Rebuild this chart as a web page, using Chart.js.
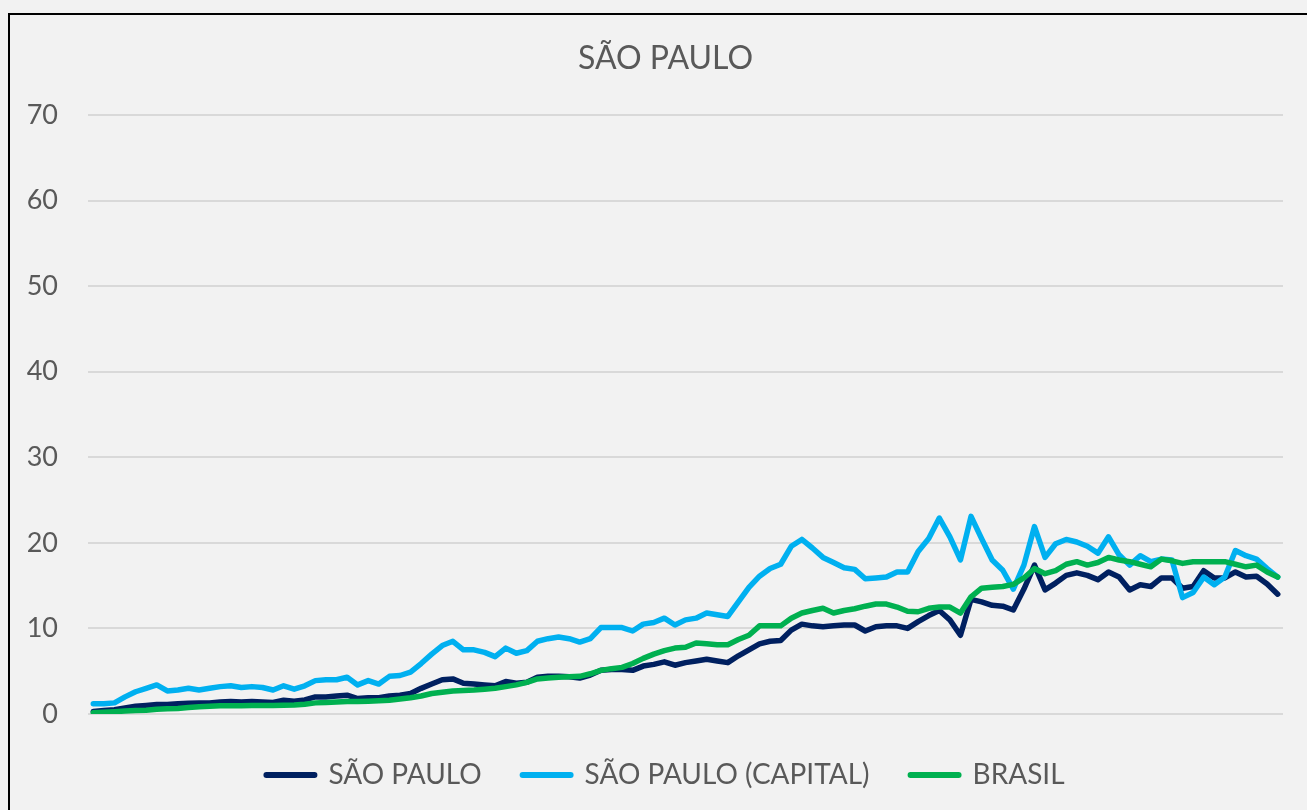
<!DOCTYPE html>
<html lang="pt-BR">
<head>
<meta charset="utf-8">
<title>São Paulo</title>
<script src="https://cdn.jsdelivr.net/npm/chart.js@4.4.1/dist/chart.umd.min.js"></script>
<style>
  html, body { margin: 0; padding: 0; background: #f2f2f2; overflow: hidden; }
  #grafico { position: absolute; left: 0; top: 0; }
  #moldura { position: absolute; left: 8px; top: 13px; width: 1400px; height: 900px;
             border-left: 2px solid #000; border-top: 2px solid #000; pointer-events: none; }
</style>
</head>
<body>
<canvas id="grafico" width="1307" height="810"></canvas>
<div id="moldura"></div>
<script>
// --- Dados ---
const serieSP = [
  0.3, 0.4, 0.5, 0.7, 0.9, 1.0, 1.1, 1.1, 1.2, 1.25,
  1.3, 1.3, 1.4, 1.45, 1.4, 1.45, 1.4, 1.35, 1.6, 1.5,
  1.65, 2.0, 2.0, 2.1, 2.2, 1.8, 1.9, 1.9, 2.1, 2.2,
  2.4, 3.0, 3.5, 4.0, 4.1, 3.6, 3.5, 3.4, 3.3, 3.8,
  3.6, 3.7, 4.3, 4.4, 4.4, 4.35, 4.2, 4.55, 5.1, 5.2,
  5.2, 5.1, 5.6, 5.8, 6.1, 5.7, 6.0, 6.2, 6.4, 6.2,
  6.0, 6.8, 7.5, 8.2, 8.5, 8.6, 9.8, 10.5, 10.3, 10.2,
  10.3, 10.4, 10.4, 9.7, 10.2, 10.3, 10.3, 10.0, 10.8, 11.5,
  12.1, 11.0, 9.2, 13.4, 13.1, 12.7, 12.6, 12.15, 14.6, 17.4,
  14.5, 15.3, 16.2, 16.5, 16.2, 15.7, 16.6, 16.0, 14.5, 15.1,
  14.9, 15.9, 15.9, 14.7, 14.9, 16.75, 15.9, 15.9, 16.6, 16.0,
  16.1, 15.2, 14.0
];
const serieCapital = [
  1.2, 1.2, 1.3, 2.0, 2.6, 3.0, 3.4, 2.7, 2.8, 3.0,
  2.8, 3.0, 3.2, 3.3, 3.1, 3.2, 3.1, 2.8, 3.3, 2.9,
  3.3, 3.9, 4.0, 4.0, 4.3, 3.4, 3.9, 3.5, 4.4, 4.5,
  4.9, 5.9, 7.0, 8.0, 8.5, 7.5, 7.5, 7.2, 6.7, 7.7,
  7.1, 7.4, 8.5, 8.8, 9.0, 8.8, 8.4, 8.8, 10.1, 10.1,
  10.1, 9.7, 10.5, 10.7, 11.2, 10.4, 11.0, 11.2, 11.8, 11.6,
  11.4, 13.1, 14.8, 16.1, 17.0, 17.5, 19.6, 20.4, 19.4, 18.3,
  17.7, 17.1, 16.9, 15.8, 15.9, 16.0, 16.6, 16.6, 19.0, 20.5,
  22.9, 20.7, 18.0, 23.1, 20.5, 18.0, 16.8, 14.6, 17.4, 21.9,
  18.3, 19.9, 20.4, 20.1, 19.6, 18.8, 20.7, 18.6, 17.4, 18.5,
  17.8, 18.1, 18.0, 13.6, 14.2, 16.0, 15.1, 16.0, 19.1, 18.5,
  18.1, 17.0, 16.0
];
const serieBrasil = [
  0.15, 0.2, 0.27, 0.35, 0.4, 0.45, 0.55, 0.6, 0.65, 0.75,
  0.85, 0.9, 0.95, 0.97, 0.97, 0.98, 1.0, 1.0, 1.02, 1.05,
  1.15, 1.3, 1.35, 1.4, 1.45, 1.45, 1.5, 1.55, 1.6, 1.75,
  1.9, 2.1, 2.4, 2.55, 2.7, 2.75, 2.8, 2.9, 3.0, 3.2,
  3.4, 3.7, 4.1, 4.2, 4.3, 4.35, 4.4, 4.7, 5.1, 5.3,
  5.45, 5.9, 6.5, 7.0, 7.4, 7.7, 7.8, 8.3, 8.2, 8.1,
  8.1, 8.7, 9.2, 10.3, 10.3, 10.3, 11.2, 11.8, 12.1, 12.35,
  11.8, 12.1, 12.3, 12.6, 12.85, 12.85, 12.5, 12.0, 11.95, 12.35,
  12.5, 12.5, 11.8, 13.7, 14.7, 14.8, 14.9, 15.15, 15.9, 17.0,
  16.4, 16.75, 17.5, 17.8, 17.4, 17.7, 18.3, 18.0, 17.8, 17.5,
  17.2, 18.1, 17.9, 17.6, 17.8, 17.8, 17.8, 17.8, 17.5, 17.2,
  17.4, 16.6, 16.0
];
// o eixo horizontal não tem rótulos no original
const categorias = serieSP.map((_, i) => String(i + 1));
const nomesSeries = ['SÃO PAULO', 'SÃO PAULO (CAPITAL)', 'BRASIL'];
const coresSeries = ['#002060', '#00b0f0', '#00b050'];
const ticksY = { min: 0, max: 70, passo: 10 };

const corTexto = '#595959';
const fonte = 'Lato';
const espessura = 5.5;

const ctx = document.getElementById('grafico').getContext('2d');
const valores = [serieSP, serieCapital, serieBrasil];

// legenda com traço grosso e pontas arredondadas
function gerarLegenda(chart) {
    const itens = Chart.defaults.plugins.legend.labels.generateLabels(chart);
    itens.forEach(item => {
        item.lineWidth = 6;
        item.lineCap = 'round';
        item.strokeStyle = coresSeries[nomesSeries.indexOf(item.text)];
    });
    return itens;
}

new Chart(ctx, {
    type: 'line',
    data: {
        labels: categorias,
        datasets: valores.map((dados, i) => ({
            label: nomesSeries[i],
            data: dados,
            borderColor: coresSeries[i],
            backgroundColor: coresSeries[i],
            borderWidth: espessura,
            pointBorderWidth: espessura,
            borderCapStyle: 'round',
            borderJoinStyle: 'round'
        })).reverse() // BRASIL por cima, como no Excel
    },
    options: {
        responsive: false,
        animation: false,
        devicePixelRatio: 1,
        layout: { padding: { left: 24, right: 0, top: 0, bottom: 11 } },
        elements: {
            point: { radius: 0, hoverRadius: 0 },
            line: { tension: 0 }
        },
        scales: {
            x: {
                offset: true,
                ticks: { display: false },
                grid: { display: false },
                border: { display: false },
                afterFit: scale => { scale.height = 6; }
            },
            y: {
                min: ticksY.min,
                max: ticksY.max,
                ticks: { stepSize: ticksY.passo, padding: 30, color: corTexto, font: { family: fonte, size: 27 } },
                grid: { color: '#d9d9d9', lineWidth: 2, drawTicks: false },
                border: { display: false },
                afterFit: scale => { scale.width = 64; }
            },
            // eixo vazio só para reservar a margem direita
            y2: {
                position: 'right',
                min: ticksY.min,
                max: ticksY.max,
                ticks: { display: false },
                grid: { display: false },
                border: { display: false },
                afterFit: scale => { scale.width = 24; }
            }
        },
        plugins: {
            title: {
                display: true,
                text: 'SÃO PAULO',
                color: corTexto,
                font: { family: fonte, size: 32, weight: 'normal', lineHeight: 1.2 },
                padding: { top: 39, bottom: 37.6 }
            },
            legend: {
                position: 'bottom',
                labels: {
                    usePointStyle: true,
                    pointStyle: 'line',
                    pointStyleWidth: 48,
                    padding: 41,
                    color: corTexto,
                    font: { family: fonte, size: 28 },
                    generateLabels: gerarLegenda,
                    sort: (a, b) => b.datasetIndex - a.datasetIndex
                }
            },
            tooltip: { enabled: false }
        }
    }
});
</script>
</body>
</html>
